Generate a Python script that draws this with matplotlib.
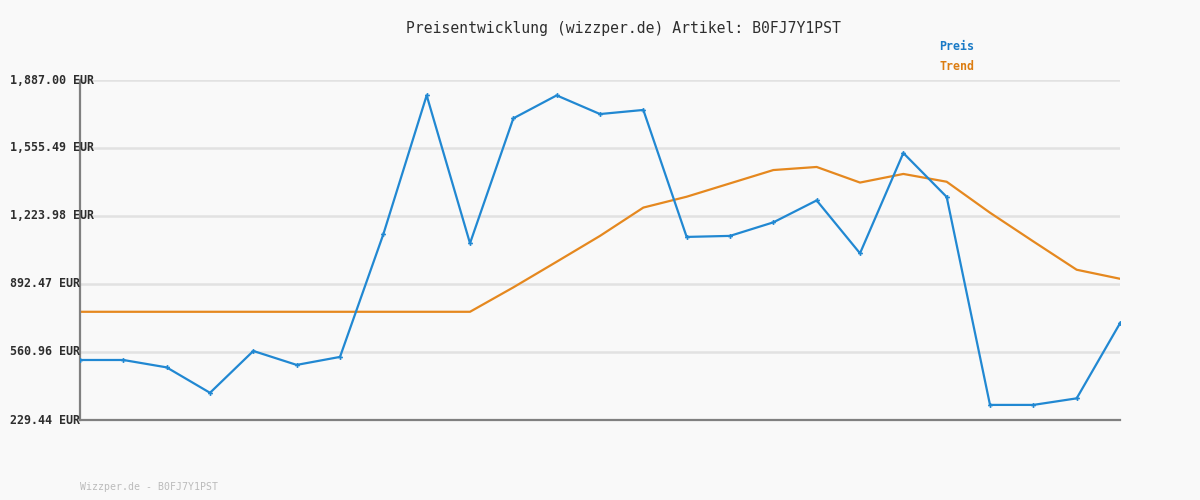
import matplotlib
matplotlib.use("Agg")
import matplotlib.pyplot as plt

preis = [522, 522, 486, 362, 566, 498, 537, 1135, 1812, 1091, 1700, 1812, 1721,
         1741, 1122, 1127, 1193, 1300, 1042, 1531, 1317, 303, 303, 335, 701]
trend = [757, 757, 757, 757, 757, 757, 757, 757, 757, 757, 876, 1001, 1127,
         1265, 1318, 1383, 1448, 1463, 1387, 1429, 1391, 1240, 1100, 962, 918]
yticks = [229.44, 560.96, 892.47, 1223.98, 1555.49, 1887.00]
ytick_labels = ["229.44 EUR", "560.96 EUR", "892.47 EUR", "1,223.98 EUR",
                "1,555.49 EUR", "1,887.00 EUR"]
title = "Preisentwicklung (wizzper.de) Artikel: B0FJ7Y1PST"
footer = "Wizzper.de - B0FJ7Y1PST"

BG = "#f9f9f9"
BLUE = "#2188d2"
ORANGE = "#e5881f"
MONO = ["DejaVu Sans Mono"]

fig = plt.figure(figsize=(12, 5), dpi=100, facecolor=BG)
ax = fig.add_axes([80 / 1200, 80 / 500, 1040 / 1200, 340 / 500], facecolor=BG)

x = list(range(len(preis)))
ax.set_xlim(0, len(preis) - 1)
ax.set_ylim(yticks[0], yticks[-1])

for v in yticks[1:]:
    ax.axhline(v, color="#e2e2e2", lw=1.8, zorder=0)

ax.plot(x, trend, color=ORANGE, lw=1.6, zorder=2)
ax.plot(x, preis, color=BLUE, lw=1.6, marker="P", markersize=3.5,
        markeredgewidth=0, zorder=3)

for s in ["top", "right"]:
    ax.spines[s].set_visible(False)
for s in ["left", "bottom"]:
    ax.spines[s].set_color("#808080")
    ax.spines[s].set_linewidth(1.6)
ax.set_xticks([])
ax.set_yticks([])

for v, lab in zip(yticks, ytick_labels):
    ypix = 420 - (v - yticks[0]) / (yticks[-1] - yticks[0]) * 340
    fig.text(10 / 1200, 1 - ypix / 500, lab, ha="left", va="center",
             family=MONO, fontsize=8.4, fontweight="bold", color="#2e2e2e")

fig.text(623 / 1200, 1 - 28 / 500, title, ha="center", va="center",
         family=MONO, fontsize=10.6, color="#2e2e2e")
fig.text(939 / 1200, 1 - 47 / 500, "Preis", ha="left", va="center",
         family=MONO, fontsize=8.4, fontweight="bold", color="#1a7ac6")
fig.text(939 / 1200, 1 - 67 / 500, "Trend", ha="left", va="center",
         family=MONO, fontsize=8.4, fontweight="bold", color="#dc7d12")
fig.text(80 / 1200, 1 - 487 / 500, footer, ha="left", va="center",
         family=MONO, fontsize=7.1, color="#bbbbbb")

fig.savefig("out.png", dpi=100, facecolor=BG)
